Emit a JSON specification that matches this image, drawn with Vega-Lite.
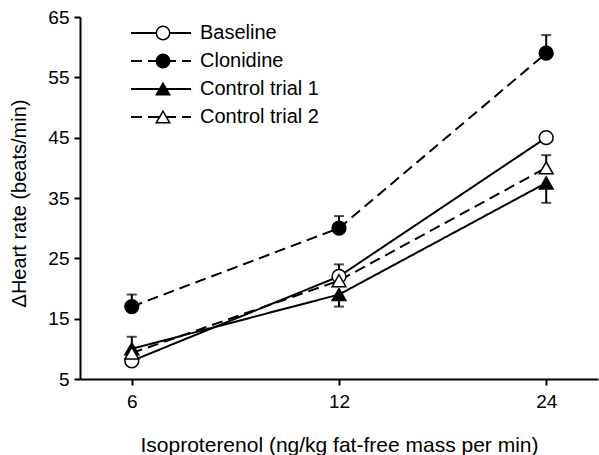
{
  "$schema": "https://vega.github.io/schema/vega-lite/v6.json",
  "width": 518,
  "height": 362,
  "autosize": {"type": "none"},
  "padding": {"left": 80, "top": 17, "right": 1, "bottom": 76},
  "background": "white",
  "config": {
    "view": {"stroke": null},
    "font": "Liberation Sans",
    "axis": {"grid": false, "domainColor": "black", "domainWidth": 2, "tickColor": "black", "tickWidth": 2, "tickSize": 6, "labelColor": "black", "titleColor": "black", "labelFont": "Liberation Sans", "titleFont": "Liberation Sans", "labelFontSize": 19, "titleFontSize": 20, "titleFontWeight": "normal"},
    "legend": {"labelFont": "Liberation Sans", "labelFontSize": 20, "labelColor": "black"}
  },
  "datasets": {
    "means": [
      {"series": "Baseline", "dose": 6, "hr": 8},
      {"series": "Baseline", "dose": 12, "hr": 22},
      {"series": "Baseline", "dose": 24, "hr": 45},
      {"series": "Clonidine", "dose": 6, "hr": 17},
      {"series": "Clonidine", "dose": 12, "hr": 30},
      {"series": "Clonidine", "dose": 24, "hr": 59},
      {"series": "Control trial 1", "dose": 6, "hr": 10},
      {"series": "Control trial 1", "dose": 12, "hr": 19},
      {"series": "Control trial 1", "dose": 24, "hr": 37.5},
      {"series": "Control trial 2", "dose": 6, "hr": 9.3},
      {"series": "Control trial 2", "dose": 12, "hr": 21.3},
      {"series": "Control trial 2", "dose": 24, "hr": 40}
    ],
    "errs": [
      {"series": "Clonidine", "dose": 6, "hr": 17, "end": 19},
      {"series": "Clonidine", "dose": 12, "hr": 30, "end": 32},
      {"series": "Clonidine", "dose": 24, "hr": 59, "end": 62},
      {"series": "Baseline", "dose": 12, "hr": 22, "end": 24},
      {"series": "Control trial 1", "dose": 6, "hr": 10, "end": 12},
      {"series": "Control trial 1", "dose": 12, "hr": 19, "end": 17},
      {"series": "Control trial 1", "dose": 24, "hr": 37.5, "end": 34.2},
      {"series": "Control trial 2", "dose": 24, "hr": 40, "end": 42.1}
    ]
  },
  "encoding": {
    "x": {"field": "dose", "type": "ordinal", "sort": [6, 12, 24],
      "scale": {"type": "point", "padding": 0.25},
      "axis": {"title": "Isoproterenol (ng/kg fat-free mass per min)", "titleFontSize": 21, "labelAngle": 0, "labelPadding": 7, "titleY": 66, "titleBaseline": "middle"}},
    "y": {"field": "hr", "type": "quantitative",
      "scale": {"domain": [5, 65], "nice": false, "zero": false},
      "axis": {"title": "ΔHeart rate (beats/min)", "values": [5, 15, 25, 35, 45, 55, 65], "labelPadding": 5, "titleX": -61, "titleY": 186, "titleBaseline": "middle"}}
  },
  "layer": [
    {
      "data": {"name": "means"},
      "mark": {"type": "line", "stroke": "black", "strokeWidth": 2},
      "encoding": {
        "strokeDash": {"field": "series", "type": "nominal",
          "scale": {"range": [[1, 0], [11, 6], [1, 0], [11, 6]]},
          "legend": {"title": null, "orient": "none", "legendX": 50, "legendY": 2, "symbolType": "stroke", "symbolSize": 3600, "symbolStrokeWidth": 2, "symbolStrokeColor": "black", "clipHeight": 28, "rowPadding": 0, "padding": 0, "labelOffset": 8, "zindex": 1}}
      }
    },
    {
      "data": {"name": "errs"},
      "mark": {"type": "rule", "stroke": "black", "strokeWidth": 2},
      "encoding": {"y2": {"field": "end"}}
    },
    {
      "data": {"name": "errs"},
      "mark": {"type": "tick", "color": "black", "orient": "horizontal", "size": 10, "thickness": 2},
      "encoding": {"y": {"field": "end", "type": "quantitative"}}
    },
    {
      "data": {"name": "means"},
      "mark": {"type": "point", "stroke": "black", "strokeWidth": 1.5, "opacity": 1, "size": 190},
      "encoding": {
        "shape": {"field": "series", "type": "nominal",
          "scale": {"domain": ["Baseline", "Clonidine", "Control trial 1", "Control trial 2"], "range": ["circle", "circle", "triangle-up", "triangle-up"]},
          "legend": {"title": null, "orient": "none", "legendX": 73, "legendY": 2, "symbolSize": 180, "clipHeight": 28, "rowPadding": 0, "padding": 0, "labelExpr": "''", "zindex": 2,
            "encode": {"symbols": {"update": {"stroke": {"value": "black"}, "strokeWidth": {"value": 1.5}}}}}},
        "fill": {"field": "series", "type": "nominal",
          "scale": {"domain": ["Baseline", "Clonidine", "Control trial 1", "Control trial 2"], "range": ["white", "black", "black", "white"]},
          "legend": {"title": null, "orient": "none", "legendX": 73, "legendY": 2, "symbolSize": 180, "clipHeight": 28, "rowPadding": 0, "padding": 0, "labelExpr": "''", "zindex": 2,
            "encode": {"symbols": {"update": {"stroke": {"value": "black"}, "strokeWidth": {"value": 1.5}}}}}}
      }
    }
  ]
}
